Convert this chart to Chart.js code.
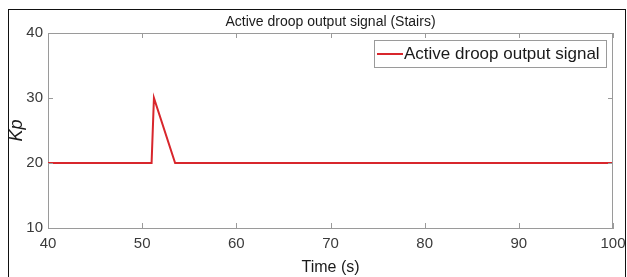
<!DOCTYPE html>
<html>
<head>
<meta charset="utf-8">
<script src="https://cdn.jsdelivr.net/npm/chart.js@4.4.0/dist/chart.umd.min.js"></script>
<style>
  html, body { margin: 0; padding: 0; background: #fff; overflow: hidden; }
  #wrap { position: relative; width: 627px; height: 277px; }
  #frame { position: absolute; left: 8px; top: 9px; width: 616px; height: 300px; border: 1.5px solid #111; pointer-events: none; }
  canvas { position: absolute; left: 0; top: 0; }
</style>
</head>
<body>
<div id="wrap">
  <canvas id="chart" width="627" height="277"></canvas>
  <div id="frame"></div>
</div>
<script>
// data
const timeS = [40, 51, 51.25, 53.5, 100];
const kpValues = [20, 20, 30, 20, 20];
const xTicks = [40, 50, 60, 70, 80, 90, 100];
const yTicks = [10, 20, 30, 40];
const chartTitle = 'Active droop output signal (Stairs)';

const FONT = "'Liberation Sans', Arial, sans-serif";
const AXIS_GREY = '#9a9a9a';
const TEXT = '#3a3a3a';
const RED = '#d8262c';

// box around the axes, inward ticks, title over the axes and the legend, MATLAB style
const matlabAxes = {
  id: 'matlabAxes',
  afterDatasetsDraw(chart) {
    const { ctx, chartArea: a, scales } = chart;
    ctx.save();
    ctx.strokeStyle = AXIS_GREY;
    ctx.lineWidth = 1;
    ctx.beginPath();
    ctx.moveTo(a.left, a.top + 0.5);
    ctx.lineTo(a.right, a.top + 0.5);
    ctx.moveTo(a.right - 0.5, a.top);
    ctx.lineTo(a.right - 0.5, a.bottom);
    const len = 5;
    xTicks.forEach(v => {
      const x = Math.round(scales.x.getPixelForValue(v)) + 0.5;
      ctx.moveTo(x, a.bottom); ctx.lineTo(x, a.bottom - len);
      ctx.moveTo(x, a.top); ctx.lineTo(x, a.top + len);
    });
    yTicks.forEach(v => {
      const y = Math.round(scales.y.getPixelForValue(v)) + 0.5;
      ctx.moveTo(a.left, y); ctx.lineTo(a.left + len, y);
      ctx.moveTo(a.right, y); ctx.lineTo(a.right - len, y);
    });
    ctx.stroke();

    ctx.fillStyle = '#1a1a1a';
    ctx.font = '14px ' + FONT;
    ctx.textAlign = 'center';
    ctx.textBaseline = 'middle';
    ctx.fillText(chartTitle, (a.left + a.right) / 2, 22);
    ctx.restore();
  },
  afterDraw(chart) {
    const { ctx, chartArea: a } = chart;
    const ds = chart.data.datasets[0];
    const boxW = 232, boxH = 27;
    const bx = a.right - 7 - boxW, by = a.top + 7;
    ctx.save();
    ctx.fillStyle = '#fff';
    ctx.fillRect(bx, by, boxW, boxH);
    ctx.strokeStyle = AXIS_GREY;
    ctx.lineWidth = 1;
    ctx.strokeRect(bx + 0.5, by + 0.5, boxW, boxH);
    ctx.strokeStyle = ds.borderColor;
    ctx.lineWidth = 2;
    ctx.beginPath();
    ctx.moveTo(bx + 3, by + 14);
    ctx.lineTo(bx + 29, by + 14);
    ctx.stroke();
    ctx.fillStyle = '#1a1a1a';
    ctx.font = '17px ' + FONT;
    ctx.textBaseline = 'middle';
    ctx.textAlign = 'left';
    ctx.fillText(ds.label, bx + 30, by + 14.5);
    ctx.restore();
  }
};

new Chart(document.getElementById('chart'), {
  type: 'line',
  data: {
    datasets: [{
      label: 'Active droop output signal',
      data: timeS.map((t, i) => ({ x: t, y: kpValues[i] })),
      borderColor: RED,
      borderWidth: 2,
      pointRadius: 0,
      tension: 0,
      fill: false
    }]
  },
  options: {
    responsive: false,
    animation: false,
    layout: { padding: { left: 0, right: 14, top: 33, bottom: 0 } },
    plugins: {
      legend: { display: false },
      tooltip: { enabled: false },
      title: { display: false }
    },
    scales: {
      x: {
        type: 'linear',
        min: 40,
        max: 100,
        afterFit(scale) {
          scale.height = 49;
          scale.paddingLeft = 0;
          scale.paddingRight = 0;
        },
        afterBuildTicks(scale) { scale.ticks = xTicks.map(v => ({ value: v })); },
        grid: { display: false, drawTicks: false },
        border: { display: true, color: AXIS_GREY, width: 1 },
        ticks: { color: TEXT, font: { family: FONT, size: 15 }, padding: 7, maxRotation: 0 },
        title: {
          display: true,
          text: 'Time (s)',
          color: '#1a1a1a',
          font: { family: FONT, size: 16 },
          padding: { top: 0, bottom: 0 }
        }
      },
      y: {
        min: 10,
        max: 40,
        afterFit(scale) {
          scale.width = 48;
          scale.paddingTop = 0;
          scale.paddingBottom = 0;
        },
        afterBuildTicks(scale) { scale.ticks = yTicks.map(v => ({ value: v })); },
        grid: { display: false, drawTicks: false },
        border: { display: true, color: AXIS_GREY, width: 1 },
        ticks: { color: TEXT, font: { family: FONT, size: 15 }, padding: 5 },
        title: {
          display: true,
          text: 'Kp',
          color: '#1a1a1a',
          font: { family: FONT, size: 18, style: 'italic' },
          padding: { top: 6, bottom: 0 }
        }
      }
    }
  },
  plugins: [matlabAxes]
});
</script>
</body>
</html>
